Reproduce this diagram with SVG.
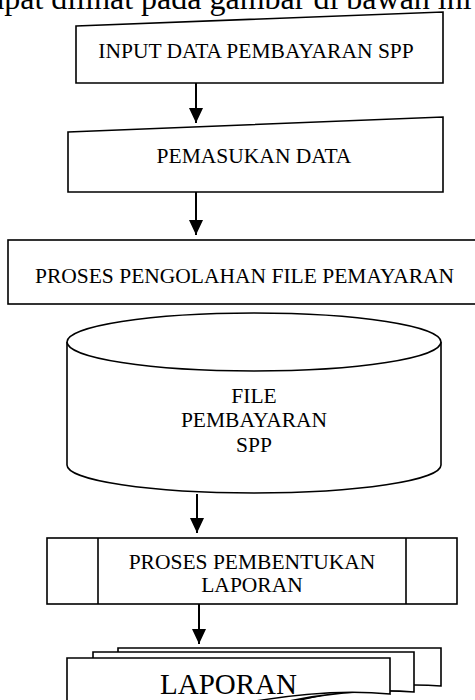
<svg xmlns="http://www.w3.org/2000/svg" width="475" height="700" viewBox="0 0 475 700">
<style>
.s{fill:#fff;stroke:#000;stroke-width:1.6}
.t{font-family:"Liberation Serif","Times New Roman",serif;font-size:21.5px;fill:#000;text-anchor:middle}
.c{stroke:#000;stroke-width:2;fill:none}
</style>
<defs>
<marker id="ah" markerUnits="userSpaceOnUse" markerWidth="15" markerHeight="15" refX="15" refY="7" orient="auto">
<path d="M0,0 L15,7 L0,14 z" fill="#000"/>
</marker>
</defs>
<rect width="475" height="700" fill="#fff"/>
<text x="-10" y="9" style="font-family:'Liberation Serif',serif;font-size:32px">apat dilihat pada gambar di bawah ini</text>
<g id="input">
<polygon class="s" points="76,26 443,12 443,83 76,83"/>
<text class="t" x="256" y="58">INPUT DATA PEMBAYARAN SPP</text>
</g>
<g id="pemasukan">
<polygon class="s" points="68,132 443,117 443,192 68,192"/>
<text class="t" x="254" y="163">PEMASUKAN DATA</text>
</g>
<g id="proses-pengolahan">
<rect class="s" x="8" y="240" width="480" height="64"/>
<text class="t" x="244.5" y="283">PROSES PENGOLAHAN FILE PEMAYARAN</text>
</g>
<g id="file-pembayaran">
<path class="s" d="M67,342 A187,29 0 0,1 441,342 L441,465 A187,28 0 0,1 67,465 Z"/>
<path class="s" d="M67,342 A187,29 0 0,0 441,342" fill="none"/>
<text class="t" x="254" y="403">FILE</text>
<text class="t" x="254" y="427">PEMBAYARAN</text>
<text class="t" x="254" y="452">SPP</text>
</g>
<g id="proses-pembentukan">
<rect class="s" x="47" y="538" width="410" height="66"/>
<line class="s" x1="98" y1="538" x2="98" y2="604"/>
<line class="s" x1="406" y1="538" x2="406" y2="604"/>
<text class="t" x="252" y="569">PROSES PEMBENTUKAN</text>
<text class="t" x="252" y="592">LAPORAN</text>
</g>
<g id="laporan">
<path class="s" d="M118,648 H441 V686 Q380,681 300,700 T118,712 Z"/>
<path class="s" d="M93,652 H414 V692 Q350,687 270,705 T93,716 Z"/>
<path class="s" d="M67,658 H390 V694 Q330,688 250,702 L67,722 Z"/>
<text class="t" x="228.5" y="694" style="font-size:29px">LAPORAN</text>
</g>
<g id="connectors">
<line class="c" x1="196" y1="83" x2="196" y2="123" marker-end="url(#ah)"/>
<line class="c" x1="196" y1="192" x2="196" y2="235" marker-end="url(#ah)"/>
<line class="c" x1="197" y1="494" x2="197" y2="533" marker-end="url(#ah)"/>
<line class="c" x1="199" y1="604" x2="199" y2="644" marker-end="url(#ah)"/>
</g>
</svg>
